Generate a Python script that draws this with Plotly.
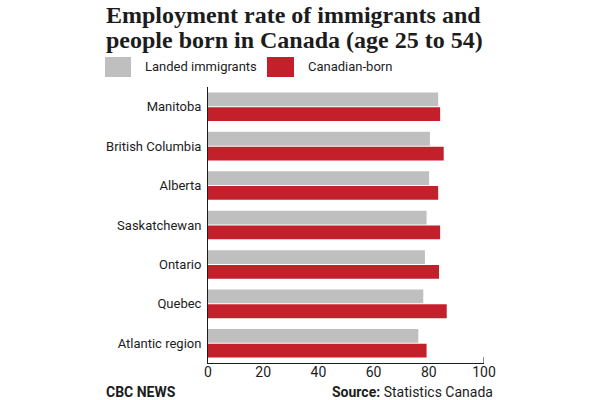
import plotly.graph_objects as go

# ---- data ----
regions = ["Manitoba", "British Columbia", "Alberta", "Saskatchewan",
           "Ontario", "Quebec", "Atlantic region"]
immigrants = [83.4, 80.4, 80.1, 79.2, 78.6, 78.0, 76.2]
canadian_born = [84.1, 85.4, 83.4, 84.1, 83.7, 86.5, 79.2]
x_ticks = [0, 20, 40, 60, 80, 100]

GRAY = "#bfbfbf"
RED = "#c4202b"
INK = "#1c1c1c"

W, H = 600, 400
L, R, T, B = 208, 484, 87, 363  # plot area in pixels


def px_x(p):
    return (p - L) / (R - L)


def px_y(p):
    return (B - p) / (B - T)


fig = go.Figure()
fig.add_trace(go.Bar(y=regions, x=immigrants, orientation="h", name="Landed immigrants",
                     marker=dict(color=GRAY, line=dict(width=0))))
fig.add_trace(go.Bar(y=regions, x=canadian_born, orientation="h", name="Canadian-born",
                     marker=dict(color=RED, line=dict(width=0))))

fig.update_layout(
    width=W, height=H,
    margin=dict(l=L, r=W - R, t=T, b=H - B, pad=0),
    paper_bgcolor="white", plot_bgcolor="white",
    barmode="group", bargap=0.25, bargroupgap=0.07,
    showlegend=False,
    font=dict(family="Roboto", size=13, color=INK),
)
fig.update_xaxes(range=[0, 100], tickvals=x_ticks, showgrid=False, zeroline=False,
                 showline=True, linecolor=INK, linewidth=1, ticks="",
                 ticklabelstandoff=-4,
                 tickfont=dict(family="Roboto", size=14, color=INK), fixedrange=True)
fig.update_yaxes(autorange="reversed", showgrid=False, zeroline=False,
                 showline=True, linecolor=INK, linewidth=1, ticks="outside",
                 ticklen=3, tickcolor="rgba(0,0,0,0)",
                 tickfont=dict(family="Roboto", size=13, color=INK), fixedrange=True)

# end tick at 100
fig.add_shape(type="line", xref="x", yref="paper", x0=100, x1=100, y0=0, y1=px_y(357),
              line=dict(color=INK, width=1))

# title
title_font = dict(family="Liberation Serif", size=24, color=INK)
fig.add_annotation(text="<b>Employment rate of immigrants and</b>", xref="paper", yref="paper",
                   x=px_x(104), y=px_y(15), xanchor="left", yanchor="middle",
                   showarrow=False, font=title_font)
fig.add_annotation(text="<b>people born in Canada (age 25 to 54)</b>", xref="paper", yref="paper",
                   x=px_x(104), y=px_y(40), xanchor="left", yanchor="middle",
                   showarrow=False, font=title_font)

# legend swatches
fig.add_shape(type="rect", xref="paper", yref="paper", x0=px_x(105), x1=px_x(131),
              y0=px_y(77), y1=px_y(57), fillcolor=GRAY, line=dict(width=0))
fig.add_shape(type="rect", xref="paper", yref="paper", x0=px_x(267), x1=px_x(294),
              y0=px_y(77), y1=px_y(57), fillcolor=RED, line=dict(width=0))
fig.add_annotation(text="Landed immigrants", xref="paper", yref="paper",
                   x=px_x(143), y=px_y(67), xanchor="left", yanchor="middle",
                   showarrow=False, font=dict(family="Roboto", size=13, color=INK))
fig.add_annotation(text="Canadian-born", xref="paper", yref="paper",
                   x=px_x(306), y=px_y(67), xanchor="left", yanchor="middle",
                   showarrow=False, font=dict(family="Roboto", size=13, color=INK))

# footer
fig.add_annotation(text="<b>CBC NEWS</b>", xref="paper", yref="paper",
                   x=px_x(104), y=px_y(392), xanchor="left", yanchor="middle",
                   showarrow=False, font=dict(family="Roboto", size=14, color=INK))
fig.add_annotation(text="<b>Source:</b> Statistics Canada", xref="paper", yref="paper",
                   x=px_x(495), y=px_y(392), xanchor="right", yanchor="middle",
                   showarrow=False, font=dict(family="Roboto", size=14, color=INK))

fig.write_html("out.html")
